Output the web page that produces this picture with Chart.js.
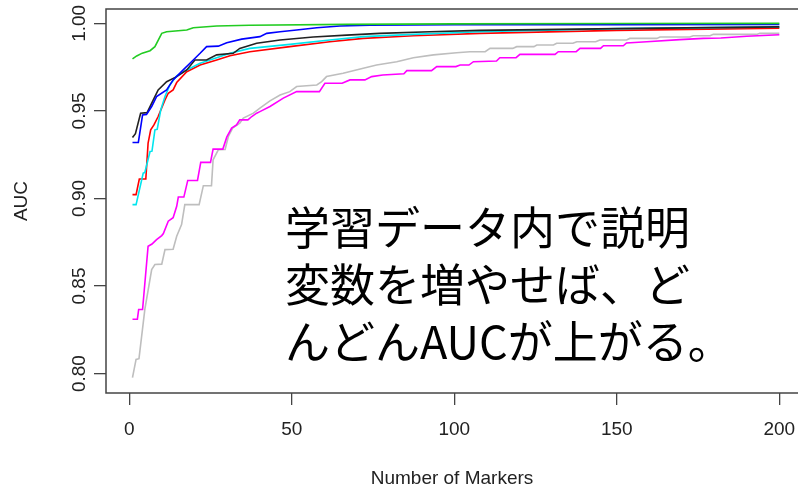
<!DOCTYPE html>
<html lang="ja">
<head>
<meta charset="UTF-8">
<title>AUC vs Number of Markers</title>
<script src="https://cdn.jsdelivr.net/npm/chart.js"></script>
<style>
    body { margin: 0; padding: 0; background: #fff; }
    #wrap { width: 798px; height: 488px; }
</style>
</head>
<body>
<div id="wrap"><canvas id="aucChart" width="798" height="488"></canvas></div>
<script>
// values: [number of markers, AUC]
const aucGreen = [[1,0.9797],[2.3,0.9814],[4,0.983],[6.4,0.9844],[7.9,0.9867],[10,0.9943],[11.5,0.9952],
    [17.7,0.9962],[19.7,0.9975],[26.9,0.9985],[37,0.9989],[66.9,0.9994],[100,0.9997],[150,0.9999],[200,1.0]];
const aucBlue = [[1,0.932],[2.8,0.932],[4.1,0.9477],[5.3,0.948],[6.9,0.9525],[8.4,0.9582],[11.5,0.962],
    [13.5,0.9677],[16.6,0.9734],[19.7,0.9791],[21.8,0.9829],[23.8,0.9867],[27.4,0.987],[30,0.9889],[34.6,0.991],
    [40.2,0.9924],[42.3,0.9943],[46.4,0.9952],[51.5,0.9962],[57.7,0.9975],[64.8,0.9985],[74,0.999],[100,0.9992],
    [150,0.9993],[200,0.9994]];
const aucBlack = [[1,0.9348],[1.9,0.937],[3.5,0.9487],[5.5,0.949],[7.4,0.9563],[8.9,0.962],[11.5,0.9667],
    [14.6,0.9696],[17.7,0.9734],[20.2,0.9791],[23.8,0.9791],[26.9,0.982],[32,0.9829],[34,0.9857],[39.2,0.9886],
    [46.4,0.9905],[56.6,0.9922],[66.9,0.9933],[77.1,0.9943],[92.5,0.9952],[107.9,0.996],[150,0.997],[200,0.998]];
const aucCyan = [[1,0.8965],[2.1,0.8965],[4.3,0.9145],[4.8,0.9148],[6.4,0.9268],[7,0.927],[7.9,0.9392],
    [8.6,0.9395],[9.7,0.9506],[11,0.9582],[12.5,0.9648],[14.6,0.97],[17.7,0.9734],[21.8,0.9772],[24.8,0.9791],
    [31,0.9829],[37.1,0.9857],[49.4,0.988],[61.7,0.9905],[72,0.9924],[87.4,0.9937],[107.9,0.9952],[150,0.997],
    [200,0.998]];
const aucRed = [[1,0.9022],[2.1,0.9022],[3.1,0.9111],[5.1,0.9111],[5.8,0.9316],[6.6,0.9392],[7.6,0.942],
    [8.9,0.9468],[11,0.9563],[12,0.9601],[13.5,0.962],[14.6,0.9662],[17.7,0.9724],[21.8,0.9762],[26.9,0.9791],
    [31,0.9815],[37.1,0.9838],[49.4,0.9867],[61.7,0.9895],[72,0.9914],[87.4,0.9929],[107.9,0.9943],[150,0.996],
    [200,0.9973]];
const aucMagenta = [[1,0.831],[2.5,0.831],[2.9,0.8366],[4.1,0.8366],[5.8,0.8727],[7,0.874],[8.4,0.8765],
    [10,0.8788],[10.5,0.88],[12,0.887],[13.5,0.889],[14.6,0.8955],[15.1,0.9008],[16.8,0.9008],[18,0.9103],
    [21,0.9103],[22,0.9206],[25,0.9206],[25.8,0.9282],[28.8,0.9282],[30,0.935],[31.5,0.9402],[33,0.942],
    [34,0.9449],[36.5,0.9449],[37.7,0.9468],[39.2,0.9487],[40.2,0.9496],[43.3,0.9525],[47.4,0.9573],[51.5,0.961],
    [58.5,0.961],[60.2,0.9658],[65.5,0.9658],[67.9,0.9677],[72.5,0.9677],[74.6,0.9696],[78,0.9705],[84.5,0.9712],
    [85.4,0.973],[93,0.973],[94.6,0.9753],[100.5,0.9753],[101.8,0.9762],[104.5,0.9762],[105.9,0.9781],[113,0.9785],
    [114,0.9804],[119,0.9804],[120.2,0.9823],[131,0.9823],[132,0.9838],[137.5,0.9838],[138.7,0.9857],[145,0.9857],
    [145.9,0.9872],[152,0.9872],[153,0.9888],[159.2,0.9895],[169.4,0.9907],[176.6,0.9914],[182,0.9916],
    [190,0.9926],[200,0.9935]];
const aucGray = [[1,0.7977],[2.1,0.8081],[3,0.8085],[4.8,0.8366],[6.9,0.8594],[7.9,0.8623],[10,0.8625],
    [11,0.8708],[13.5,0.871],[14.6,0.8784],[16.1,0.8851],[17.1,0.8965],[21.5,0.8965],[22.8,0.9073],[25.3,0.9073],
    [25.8,0.9221],[27.4,0.9278],[29.5,0.928],[30.5,0.9354],[31.8,0.9402],[34,0.943],[35.1,0.9459],[38.2,0.9487],
    [40.2,0.9516],[43.3,0.9557],[46.4,0.9591],[49.4,0.961],[51.5,0.9639],[57.7,0.9648],[59.2,0.9667],[60.7,0.9696],
    [65.8,0.9715],[72,0.9744],[76.1,0.9762],[82.3,0.9781],[87.4,0.9804],[93.6,0.982],[100.7,0.9832],[104.8,0.9838],
    [109.5,0.9838],[111,0.9857],[118,0.9857],[119.2,0.9867],[124.5,0.9867],[125.4,0.9876],[130.5,0.9876],
    [131.5,0.9886],[136.5,0.9886],[137.7,0.9895],[143.5,0.9895],[144.8,0.9905],[153,0.9905],[154,0.9914],
    [162.3,0.9914],[163.3,0.9922],[172.5,0.9922],[173.5,0.9929],[178.7,0.9929],[179.7,0.9937],[193,0.9937],
    [194,0.9943],[200,0.9943]];

const xTicks = [0, 50, 100, 150, 200];
const yTicks = [0.80, 0.85, 0.90, 0.95, 1.00];
const noteLines = ['学習データ内で説明', '変数を増やせば、ど', 'んどんAUCが上がる。'];

Chart.defaults.font.family = "'Liberation Sans', Arial, sans-serif";
Chart.defaults.font.size = 19;
Chart.defaults.color = '#222';

function toPoints(arr) {
    return arr.map(p => ({ x: p[0], y: p[1] }));
}

function line(arr, color) {
    return {
        data: toPoints(arr),
        borderColor: color,
        borderWidth: 1.6,
        pointRadius: 0,
        tension: 0,
        fill: false
    };
}

// R style box round the plot region plus the big note
const boxAndNote = {
    id: 'boxAndNote',
    afterDraw(chart) {
        const ctx = chart.ctx;
        const a = chart.chartArea;
        ctx.save();
        ctx.strokeStyle = '#444';
        ctx.lineWidth = 1.5;
        ctx.strokeRect(a.left, a.top, a.right - a.left + 10, a.bottom - a.top);
        ctx.fillStyle = '#000';
        ctx.font = '45px "Noto Sans CJK JP"';
        ctx.textBaseline = 'middle';
        noteLines.forEach((t, i) => ctx.fillText(t, 285, 228 + i * 57));
        ctx.restore();
    }
};

new Chart(document.getElementById('aucChart'), {
    type: 'line',
    data: {
        datasets: [
            line(aucGray, '#bebebe'),
            line(aucMagenta, '#ff00ff'),
            line(aucRed, '#ff0000'),
            line(aucCyan, '#00e5ee'),
            line(aucBlack, '#222222'),
            line(aucBlue, '#0000ff'),
            line(aucGreen, '#22cc22')
        ].reverse()
    },
    options: {
        responsive: false,
        animation: false,
        layout: { padding: { top: 9, left: 0, right: 0, bottom: 0 } },
        plugins: { legend: { display: false }, tooltip: { enabled: false } },
        scales: {
            x: {
                type: 'linear',
                min: -7.15,
                max: 205.75,
                afterBuildTicks: s => { s.ticks = xTicks.map(v => ({ value: v })); },
                afterFit: s => { s.height = 95; },
                grid: { drawOnChartArea: false, drawTicks: true, tickLength: 12, color: '#444', lineWidth: 1.3 },
                border: { display: false },
                // tall line height pushes the labels down without adding side padding
                ticks: { padding: 0, autoSkip: false, maxRotation: 0, color: '#222', font: { lineHeight: 2.6 } },
                title: { display: true, text: 'Number of Markers', color: '#222', padding: { top: 0, bottom: -2 } }
            },
            y: {
                type: 'linear',
                min: 0.7889,
                max: 1.0082,
                afterBuildTicks: s => { s.ticks = yTicks.map(v => ({ value: v })); },
                afterFit: s => { s.width = 106; },
                grid: { drawOnChartArea: false, drawTicks: true, tickLength: 12, color: '#444', lineWidth: 1.3 },
                border: { display: false },
                ticks: {
                    minRotation: 90, maxRotation: 90, crossAlign: 'center', padding: -4, autoSkip: false,
                    color: '#222',
                    callback: v => v.toFixed(2)
                },
                title: { display: true, text: 'AUC', color: '#222', padding: { top: 10.6, bottom: 0 } }
            }
        }
    },
    plugins: [boxAndNote]
});
</script>
</body>
</html>
